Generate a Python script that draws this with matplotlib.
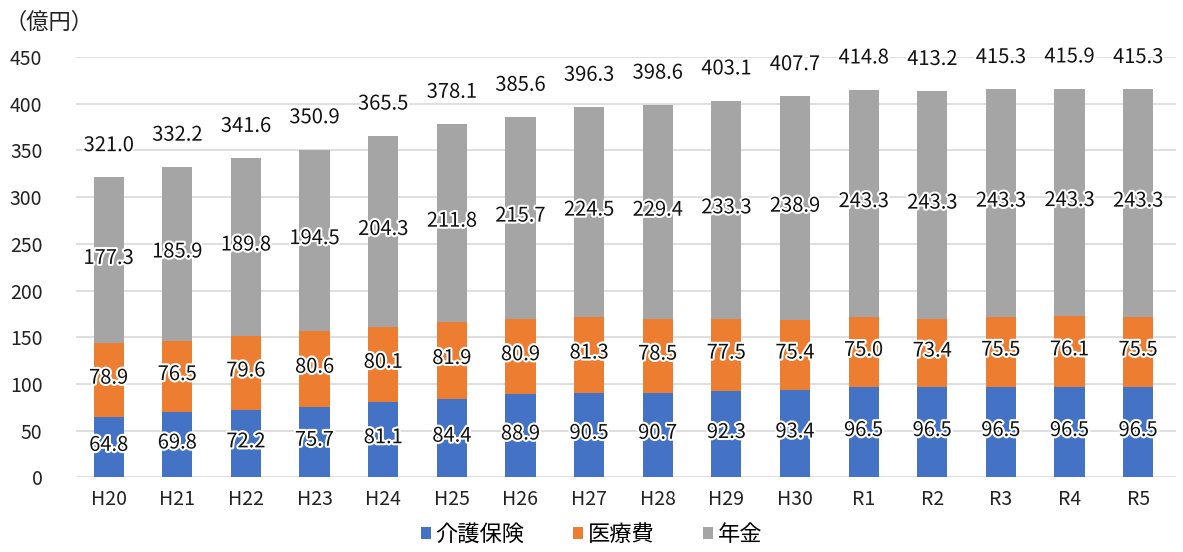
import numpy as np
import matplotlib.pyplot as plt
import matplotlib.patheffects as pe

plt.rcParams['font.family'] = ['Noto Sans CJK JP', 'DejaVu Sans']

years = ['H20', 'H21', 'H22', 'H23', 'H24', 'H25', 'H26', 'H27',
         'H28', 'H29', 'H30', 'R1', 'R2', 'R3', 'R4', 'R5']
kaigo = [64.8, 69.8, 72.2, 75.7, 81.1, 84.4, 88.9, 90.5,
         90.7, 92.3, 93.4, 96.5, 96.5, 96.5, 96.5, 96.5]
iryo = [78.9, 76.5, 79.6, 80.6, 80.1, 81.9, 80.9, 81.3,
        78.5, 77.5, 75.4, 75.0, 73.4, 75.5, 76.1, 75.5]
nenkin = [177.3, 185.9, 189.8, 194.5, 204.3, 211.8, 215.7, 224.5,
          229.4, 233.3, 238.9, 243.3, 243.3, 243.3, 243.3, 243.3]
totals = [321.0, 332.2, 341.6, 350.9, 365.5, 378.1, 385.6, 396.3,
          398.6, 403.1, 407.7, 414.8, 413.2, 415.3, 415.9, 415.3]

names = ['介護保険', '医療費', '年金']
colors = ['#4472C4', '#ED7D31', '#A5A5A5']

fig = plt.figure(figsize=(11.83, 5.52), dpi=100)
ax = fig.add_axes([0.064, 0.135, 0.93, 0.762])

x = np.arange(len(years))
w = 0.44
bottom = np.zeros(len(years))
halo = [pe.withStroke(linewidth=3, foreground='white')]
lbl_font = dict(fontsize=14.5, color='#111111', zorder=3, path_effects=halo,
                ha='center', va='center')
for vals, name, c in zip([kaigo, iryo, nenkin], names, colors):
    vals = np.array(vals)
    ax.bar(x, vals, w, bottom=bottom, color=c, label=name, zorder=2)
    for xi, b, v in zip(x, bottom, vals):
        ax.text(xi, b + v / 2 + 2, f'{v:.1f}', **lbl_font)
    bottom += vals

for xi, t in zip(x, totals):
    ax.text(xi, min(t + 34, 458), f'{t:.1f}', **lbl_font)

ax.set_ylim(0, 450)
ax.set_xlim(-0.48, 15.55)
ax.set_yticks(np.arange(0, 451, 50))
ax.set_xticks(x)
ax.set_xticklabels(years)
ax.tick_params(axis='both', length=0, labelsize=14, colors='#222222')
ax.tick_params(axis='y', pad=24)
ax.tick_params(axis='x', pad=8)
ax.yaxis.grid(True, color='#D9D9D9', linewidth=1.2, zorder=0)
ax.set_axisbelow(True)
for s in ax.spines.values():
    s.set_visible(False)

fig.text(0.004, 0.96, '（億円）', fontsize=16, va='center', ha='left', color='#222222')

fig.legend(loc='lower center', bbox_to_anchor=(0.5, -0.025), ncol=3, frameon=False,
           fontsize=16, handlelength=0.45, handleheight=0.45, handletextpad=0.2,
           columnspacing=2.2)

fig.savefig('out.png', dpi=100)
